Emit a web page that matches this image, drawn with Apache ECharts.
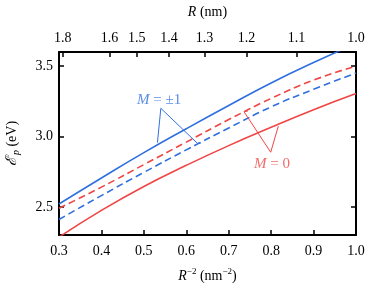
<!DOCTYPE html>
<html><head><meta charset="utf-8">
<script src="https://cdn.jsdelivr.net/npm/echarts@6/dist/echarts.min.js"></script>
<style>html,body{margin:0;padding:0;background:#fff}#c{width:375px;height:296px}</style>
</head><body><div id="c"></div>
<script>
// x values: R^-2 (nm^-2)
const xs = [0.3, 0.4, 0.5, 0.6, 0.7, 0.8, 0.9, 1.0];
// series values (eV)
const blueSolid  = [2.52, 2.705, 2.885, 3.055, 3.22, 3.38, 3.525, 3.66];
const redDashed  = [2.49, 2.64, 2.80, 2.96, 3.12, 3.27, 3.40, 3.50];
const blueDashed = [2.41, 2.58, 2.745, 2.905, 3.06, 3.21, 3.335, 3.45];
const redSolid   = [2.285, 2.475, 2.645, 2.795, 2.935, 3.065, 3.19, 3.305];
// top axis: R (nm) labels and their positions on the R^-2 scale
const topLabels = ['1.8', '1.6', '1.5', '1.4', '1.3', '1.2', '1.1', '1.0'];
const topPos    = [0.309, 0.419, 0.483, 0.559, 0.643, 0.742, 0.860, 1.0];
const bottomTicks = [0.3, 0.4, 0.5, 0.6, 0.7, 0.8, 0.9, 1.0];
const yTicks = [2.5, 3.0, 3.5];
// annotation leaders (data coords)
const annBlue = [[0.532, 2.956], [0.540, 3.200], [0.626, 2.952], [0.634, 2.952]];
const annRed  = [[0.745, 3.180], [0.736, 3.176], [0.799, 2.888], [0.817, 3.074]];
const annBlueText = [0.536, 3.262];
const annRedText  = [0.802, 2.805];

const BLUE = '#2f6fde', RED = '#f04545';
const FONT = 'Liberation Serif';
const pairs = ys => xs.map((x, i) => [x, ys[i]]);

const chart = echarts.init(document.getElementById('c'), null, {renderer: 'canvas'});
const axisLine = {show: true, onZero: false, lineStyle: {color: '#000', width: 2}};
const tick = {show: true, inside: true, length: 5, lineStyle: {color: '#000', width: 1.5}};
const lbl = {color: '#000', fontFamily: FONT, fontSize: 14};

chart.setOption({
  animation: false,
  grid: {left: 59, right: 19, top: 52, bottom: 61, containLabel: false, outerBoundsMode: 'none'},
  xAxis: [
    {type: 'value', position: 'bottom', min: 0.3, max: 1.0, interval: 0.1,
     axisLine, axisTick: Object.assign({}, tick, {customValues: bottomTicks}),
     axisLabel: Object.assign({}, lbl, {margin: 9, customValues: bottomTicks, formatter: v => v.toFixed(1)}),
     splitLine: {show: false},
     name: '{i|R}{sup|−2} {n|(nm}{sup|−2}{n|)}', nameLocation: 'middle', nameGap: 32,
     nameTextStyle: {color: '#000', fontFamily: FONT, fontSize: 14,
       rich: {i: {fontFamily: FONT, fontSize: 14, fontStyle: 'italic', color: '#000'},
              n: {fontFamily: FONT, fontSize: 14, color: '#000'},
              sup: {fontFamily: FONT, fontSize: 9, color: '#000', padding: [0, 0, 9, 0]}}}},
    {type: 'value', position: 'top', min: 0.3, max: 1.0,
     axisLine, axisTick: Object.assign({}, tick, {customValues: topPos}),
     axisLabel: Object.assign({}, lbl, {margin: 7, customValues: topPos,
       formatter: v => { const k = topPos.findIndex(p => Math.abs(p - v) < 1e-6); return k >= 0 ? topLabels[k] : ''; }}),
     splitLine: {show: false},
     name: '{i|R} (nm)', nameLocation: 'middle', nameGap: 33,
     nameTextStyle: {color: '#000', fontFamily: FONT, fontSize: 14,
       rich: {i: {fontFamily: FONT, fontSize: 14, fontStyle: 'italic', color: '#000'}}}}
  ],
  yAxis: [
    {type: 'value', position: 'left', min: 2.3, max: 3.6,
     axisLine, axisTick: Object.assign({}, tick, {customValues: yTicks}),
     axisLabel: Object.assign({}, lbl, {margin: 6, customValues: yTicks, formatter: v => v.toFixed(1)}),
     splitLine: {show: false},
     name: '{e|ℰ}{p|p} (eV)', nameLocation: 'middle', nameGap: 38, nameRotate: 90,
     nameTextStyle: {color: '#000', fontFamily: FONT, fontSize: 14,
       rich: {e: {fontFamily: FONT, fontSize: 15, fontStyle: 'italic', color: '#000'},
              p: {fontFamily: FONT, fontSize: 10, fontStyle: 'italic', color: '#000', padding: [7, 0, 0, 2]}}}},
    {type: 'value', position: 'right', min: 2.3, max: 3.6,
     axisLine, axisTick: Object.assign({}, tick, {customValues: yTicks}),
     axisLabel: {show: false}, splitLine: {show: false}}
  ],
  series: [
    {type: 'line', data: pairs(redSolid), smooth: 0.5, showSymbol: false, clip: true,
     lineStyle: {color: RED, width: 1.6}},
    {type: 'line', data: pairs(blueDashed), smooth: 0.5, showSymbol: false, clip: true,
     lineStyle: {color: BLUE, width: 1.6, type: [7, 4]}},
    {type: 'line', data: pairs(redDashed), smooth: 0.5, showSymbol: false, clip: true,
     lineStyle: {color: RED, width: 1.6, type: [7, 4]}},
    {type: 'line', data: pairs(blueSolid), smooth: 0.5, showSymbol: false, clip: true,
     lineStyle: {color: BLUE, width: 1.6}},
    {type: 'line', data: annBlue, showSymbol: false, silent: true, lineStyle: {color: BLUE, width: 1}},
    {type: 'line', data: annRed, showSymbol: false, silent: true, lineStyle: {color: RED, width: 1}},
    {type: 'scatter', data: [annBlueText], symbolSize: 0, silent: true,
     label: {show: true, position: 'inside', formatter: '{i|M} = ±1',
       color: BLUE, fontFamily: FONT, fontSize: 15,
       rich: {i: {fontStyle: 'italic', color: BLUE, fontFamily: FONT, fontSize: 15}}}},
    {type: 'scatter', data: [annRedText], symbolSize: 0, silent: true,
     label: {show: true, position: 'inside', formatter: '{i|M} = 0',
       color: RED, fontFamily: FONT, fontSize: 15,
       rich: {i: {fontStyle: 'italic', color: RED, fontFamily: FONT, fontSize: 15}}}}
  ]
});
</script></body></html>
